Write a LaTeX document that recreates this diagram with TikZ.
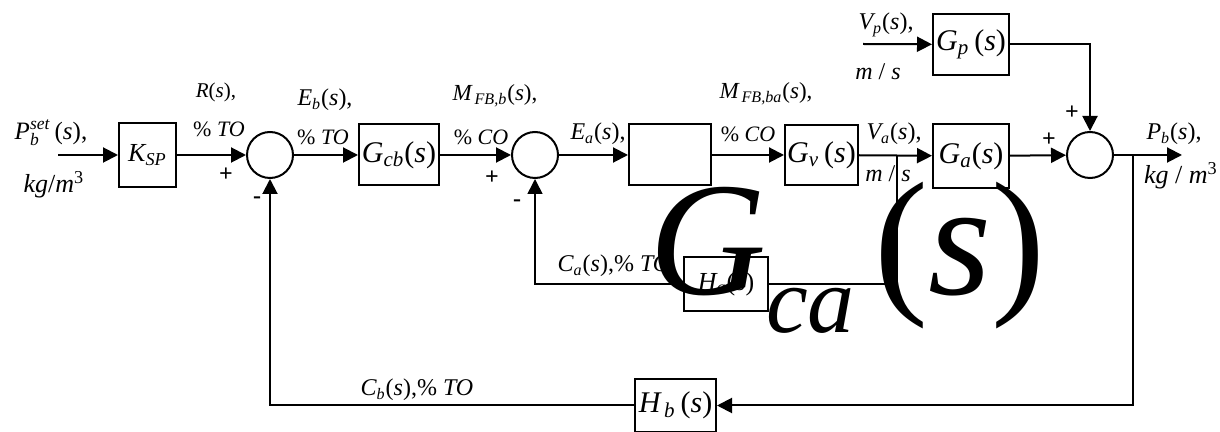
\documentclass[tikz,border=0pt]{standalone}
\usepackage{amsmath}
\usepackage{fontspec}
\setmainfont{Liberation Serif}
\newfontfamily\itfont{Liberation Serif Italic}
\usetikzlibrary{arrows.meta, positioning}
\newcommand{\vi}[1]{\text{\itfont #1}}
\newcommand{\fsz}[1]{\fontsize{#1}{#1}\selectfont}
\tikzset{
  >={Triangle[length=7.5pt,width=7.5pt]}, % filled heads as in the scan
  block/.style={draw, line width=1pt, inner sep=0pt, font=\fsz{15}},
  sumnode/.style={draw, circle, line width=1pt, minimum size=23pt, inner sep=0pt},
  signal/.style={inner sep=0pt, font=\fsz{12}},
  sign/.style={inner sep=0pt, font=\fsz{12}\bfseries},
}

\begin{document}
\begin{tikzpicture}[x=0.5pt, y=-0.5pt, line width=1pt]
  \useasboundingbox (0,0) rectangle (1220,432);

  % forward path
  \node[block, minimum width=28.5pt, minimum height=32pt, font=\fsz{13}] (ksp) at (147.5,155) {$\vi{K}_{\vi{SP}}$};
  \node[sumnode] (sum_b) at (270,155) {};
  \node[block, minimum width=40pt, minimum height=30.5pt] (gcb) at (399,155) {$\vi{G}_{\vi{cb}}$(\vi{s})};
  \node[sumnode] (sum_a) at (535,155) {};
  \node[block, minimum width=41pt, minimum height=30.5pt] (gca) at (670,155) {};
  \node[block, minimum width=36.5pt, minimum height=30pt] (gv) at (821.5,155) {$\vi{G}_{\vi{v}}$\,(\vi{s})};
  \node[block, minimum width=38pt, minimum height=32pt] (ga) at (971,156) {$\vi{G}_{\vi{a}}$(\vi{s})};
  \node[sumnode] (sum_c) at (1090,155) {};
  \node[block, minimum width=38pt, minimum height=30.5pt] (gp) at (971,44.5) {$\vi{G}_{\vi{p}}$\,(\vi{s})};

  % measurement blocks
  \node[block, minimum width=42pt, minimum height=27pt, font=\fsz{13}] (ha) at (726,284) {$\vi{H}_{\vi{a}}$(\vi{s})};
  \node[block, minimum width=40.5pt, minimum height=26.5pt] (hb) at (675.5,405.5) {$\vi{H}_{\,\vi{b}}$\,(\vi{s})};

  \coordinate (in_b) at (58,155);
  \coordinate (out_b) at (1182,155);
  \coordinate (in_p) at (863,44);
  \coordinate (tap_b) at (1133,155);
  \coordinate (tap_a) at (897,155);

  % connectors
  \draw[->] (in_b) -- (ksp);
  \draw[->] (ksp) -- (sum_b);
  \draw[->] (sum_b) -- (gcb);
  \draw[->] (gcb) -- (sum_a);
  \draw[->] (sum_a) -- (gca);
  \draw[->] (gca) -- (gv);
  \draw[->] (gv) -- (ga);
  \draw[->] (ga) -- (sum_c);
  \draw[->] (sum_c) -- (out_b);
  \draw[->] (in_p) -- (gp);
  \draw[->] (gp) -| (sum_c);
  \draw[->] (tap_b) |- (hb);
  \draw[->] (hb) -| (sum_b);
  \draw[line width=0.8pt] (tap_a) |- (ha);
  \draw[->, line width=0.8pt] (ha) -| (sum_a);

  % signal labels
  \node[signal, font=\fsz{12.5}] (lbl_pset) at (51,133) {$\vi{P}_{\vi{b}}^{\vi{set}}$\,(\vi{s}),};
  \node[signal, font=\fsz{13}] (lbl_pset_u) at (54,185) {\vi{kg}/\vi{m}\textsuperscript{3}};
  \node[signal, font=\fsz{10.5}] (lbl_r) at (216,92) {\vi{R}(\vi{s}),};
  \node[signal, font=\fsz{11}] (lbl_r_u) at (219,129) {\% \vi{TO}};
  \node[signal] (lbl_eb) at (325,100) {$\vi{E}_{\vi{b}}$(\vi{s}),};
  \node[signal, font=\fsz{11}] (lbl_eb_u) at (323,137) {\% \vi{TO}};
  \node[signal, font=\fsz{11.5}] (lbl_mb) at (495,96) {$\vi{M}_{\,\vi{FB,b}}$(\vi{s}),};
  \node[signal, font=\fsz{11}] (lbl_mb_u) at (481,137) {\% \vi{CO}};
  \node[signal] (lbl_ea) at (598,134) {$\vi{E}_{\vi{a}}$(\vi{s}),};
  \node[signal, font=\fsz{11.5}] (lbl_mba) at (766,94) {$\vi{M}_{\,\vi{FB,ba}}$(\vi{s}),};
  \node[signal, font=\fsz{11}] (lbl_mba_u) at (748,134) {\% \vi{CO}};
  \node[signal] (lbl_va) at (894,134) {$\vi{V}_{\vi{a}}$(\vi{s}),};
  \node[signal] (lbl_va_u) at (888,174) {\vi{m} / \vi{s}};
  \node[signal] (lbl_vp) at (886,25) {$\vi{V}_{\vi{p}}$(\vi{s}),};
  \node[signal] (lbl_vp_u) at (878,72) {\vi{m} / \vi{s}};
  \node[signal] (lbl_pb) at (1174,134) {$\vi{P}_{\vi{b}}$(\vi{s}),};
  \node[signal, font=\fsz{13}] (lbl_pb_u) at (1181,176) {\vi{kg} / \vi{m}\textsuperscript{3}};
  \node[signal] (lbl_ca) at (614,266) {$\vi{C}_{\vi{a}}$(\vi{s}),\% \vi{TO}};
  \node[signal] (lbl_cb) at (417,390) {$\vi{C}_{\vi{b}}$(\vi{s}),\% \vi{TO}};

  % signs at the summing junctions
  \node[sign] (sg_b1) at (226,175) {+};
  \node[sign] (sg_b2) at (257,200) {-};
  \node[sign] (sg_a1) at (492,178) {+};
  \node[sign] (sg_a2) at (517,203) {-};
  \node[sign] (sg_c1) at (1072,113) {+};
  \node[sign] (sg_c2) at (1049,140) {+};

  % oversized label of the empty block
  \node[inner sep=0pt, anchor=base west] (lbl_gca) at (648,295)
    {\fsz{81}\vi{G}\raisebox{-19pt}{\fsz{47}\vi{ca}}\hspace{10pt}(\vi{s})};
\end{tikzpicture}
\end{document}
